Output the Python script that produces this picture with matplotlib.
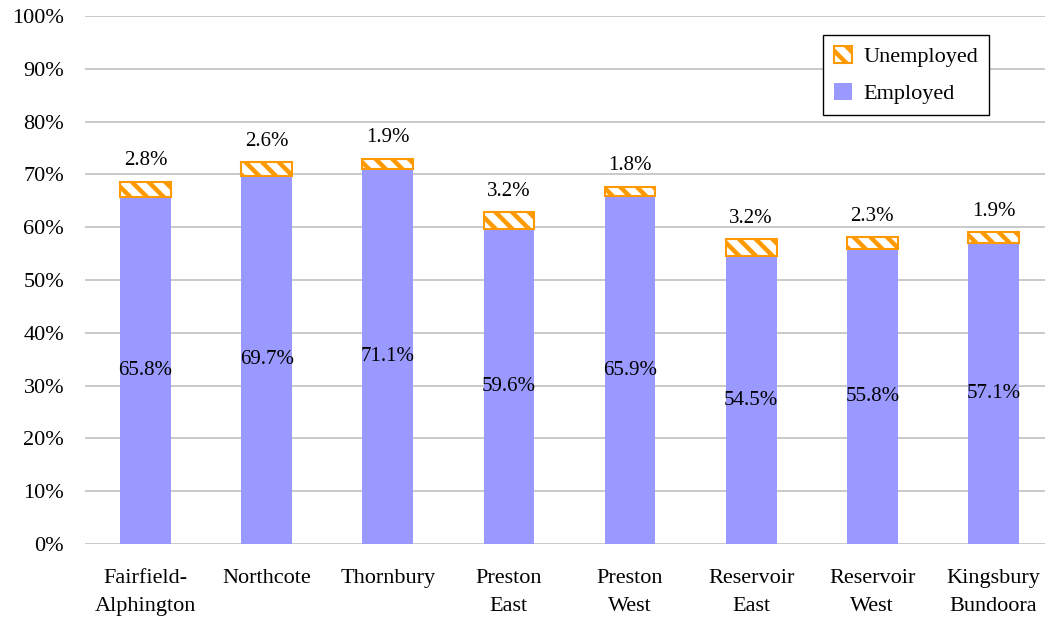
import matplotlib
matplotlib.use("Agg")
import matplotlib.pyplot as plt
from matplotlib.ticker import PercentFormatter

# data
suburbs = ["Fairfield-\nAlphington", "Northcote", "Thornbury", "Preston\nEast",
           "Preston\nWest", "Reservoir\nEast", "Reservoir\nWest", "Kingsbury\nBundoora"]
employed = [65.8, 69.7, 71.1, 59.6, 65.9, 54.5, 55.8, 57.1]
unemployed = [2.8, 2.6, 1.9, 3.2, 1.8, 3.2, 2.3, 1.9]


def main():
    plt.rcParams["font.family"] = ["Liberation Serif", "DejaVu Serif"]
    plt.rcParams["font.size"] = 15
    plt.rcParams["hatch.linewidth"] = 3.2

    fig = plt.figure(figsize=(10.45, 6.19), dpi=100)
    ax = fig.add_axes([85 / 1045, 75 / 619, 969 / 1045, 528 / 619])

    x = list(range(len(suburbs)))
    b1 = ax.bar(x, employed, width=0.42, color="#9999FF", label="Employed", zorder=3)
    b2 = ax.bar(x, unemployed, width=0.42, bottom=employed, facecolor="white",
                edgecolor="#FF9900", linewidth=1.5, hatch="\\\\", label="Unemployed", zorder=3)

    for i in x:
        ax.text(i, employed[i] / 2, f"{employed[i]:.1f}%", ha="center", va="center", zorder=4)
        ax.text(i, employed[i] + unemployed[i] + 2.2, f"{unemployed[i]:.1f}%",
                ha="center", va="bottom")

    ax.set_xlim(-0.5, len(suburbs) - 0.5)
    ax.set_ylim(0, 100)
    ax.set_yticks(range(0, 101, 10))
    ax.yaxis.set_major_formatter(PercentFormatter(decimals=0))
    ax.set_xticks(x)
    ax.set_xticklabels(suburbs, linespacing=1.65)
    ax.tick_params(length=0, labelsize=16)
    ax.tick_params(axis="y", pad=15)
    ax.tick_params(axis="x", pad=18)
    ax.grid(axis="y", color="#C0C0C0", linewidth=1.2, zorder=0)
    for s in ax.spines.values():
        s.set_visible(False)

    leg = ax.legend([b2, b1], ["Unemployed", "Employed"], loc="upper left",
                    bbox_to_anchor=((823 - 85) / 969, 1 - 19 / 528),
                    fancybox=False, edgecolor="black", framealpha=1,
                    handlelength=0.8, handleheight=0.8, handletextpad=0.5,
                    labelspacing=0.7, borderpad=0.5, borderaxespad=0, fontsize=16)
    leg.get_frame().set_linewidth(1.0)

    fig.savefig("out.png", dpi=100)


if __name__ == "__main__":
    main()
